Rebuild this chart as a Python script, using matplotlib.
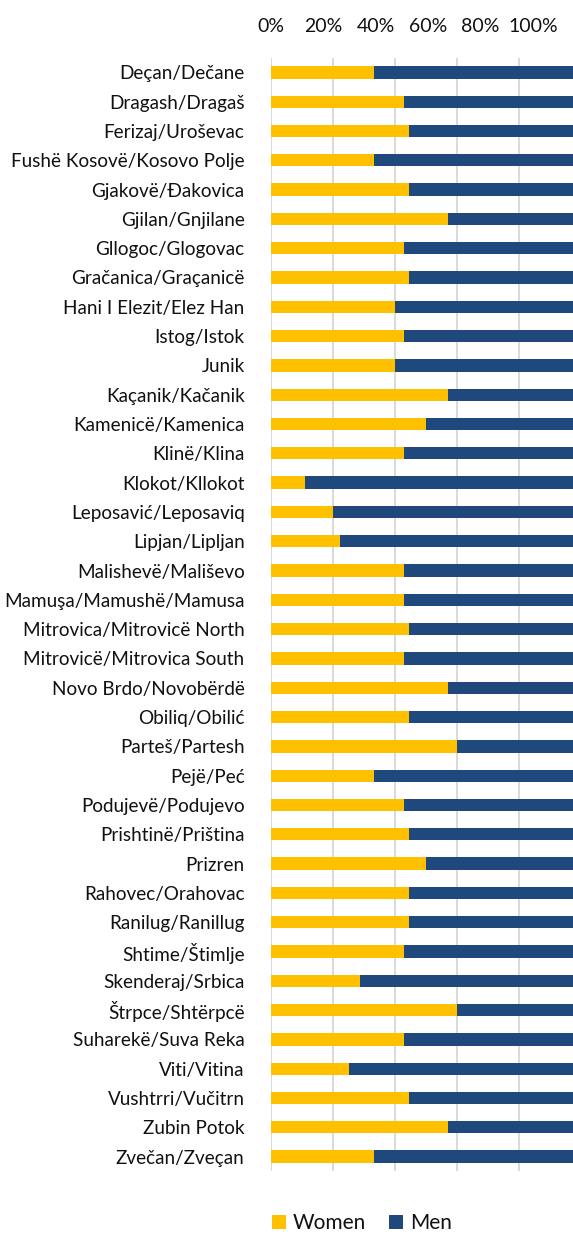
import matplotlib
matplotlib.use("Agg")
import matplotlib.pyplot as plt
from matplotlib.patches import Patch
import numpy as np

plt.rcParams['font.family'] = ['Lato', 'DejaVu Sans']

municipalities = [
    "Deçan/Dečane", "Dragash/Dragaš", "Ferizaj/Uroševac", "Fushë Kosovë/Kosovo Polje",
    "Gjakovë/Đakovica", "Gjilan/Gnjilane", "Gllogoc/Glogovac", "Gračanica/Graçanicë",
    "Hani I Elezit/Elez Han", "Istog/Istok", "Junik", "Kaçanik/Kačanik",
    "Kamenicë/Kamenica", "Klinë/Klina", "Klokot/Kllokot", "Leposavić/Leposaviq",
    "Lipjan/Lipljan", "Malishevë/Mališevo", "Mamuşa/Mamushë/Mamusa",
    "Mitrovica/Mitrovicë North", "Mitrovicë/Mitrovica South", "Novo Brdo/Novobërdë",
    "Obiliq/Obilić", "Parteš/Partesh", "Pejë/Peć", "Podujevë/Podujevo",
    "Prishtinë/Priština", "Prizren", "Rahovec/Orahovac", "Ranilug/Ranillug",
    "Shtime/Štimlje", "Skenderaj/Srbica", "Štrpce/Shtërpcë", "Suharekë/Suva Reka",
    "Viti/Vitina", "Vushtrri/Vučitrn", "Zubin Potok", "Zvečan/Zveçan",
]

women = [
    33.3, 42.9, 44.4, 33.3,
    44.4, 57.1, 42.9, 44.4,
    40.0, 42.9, 40.0, 57.1,
    50.0, 42.9, 11.1, 20.0,
    22.2, 42.9, 42.9,
    44.4, 42.9, 57.1,
    44.4, 60.0, 33.3, 42.9,
    44.4, 50.0, 44.4, 44.4,
    42.9, 28.6, 60.0, 42.9,
    25.0, 44.4, 57.1, 33.3,
]
men = [100.0 - w for w in women]

tick_values = [0, 20, 40, 60, 80, 100]
tick_labels = ["0%", "20%", "40%", "60%", "80%", "100%"]

series_names = ["Women", "Men"]
colors = ["#FFC000", "#1F497D"]

W, H = 573, 1237
fig = plt.figure(figsize=(W / 100, H / 100), dpi=100)

ax_left, ax_right = 271, 581
ax_top, ax_bot = 57.7, 1171.3
ax = fig.add_axes([ax_left / W, 1 - ax_bot / H, (ax_right - ax_left) / W, (ax_bot - ax_top) / H])

y = np.arange(len(municipalities))
ax.barh(y, women, height=0.42, color=colors[0], zorder=3)
ax.barh(y, men, left=women, height=0.42, color=colors[1], zorder=3)

ax.set_xlim(0, 100)
ax.set_ylim(len(municipalities) - 0.5, -0.5)
ax.set_xticks(tick_values)
ax.xaxis.grid(True, color="#d9d9d9", linewidth=1.4, zorder=0)
ax.tick_params(axis="x", length=0, labelbottom=False, labeltop=False)
ax.set_yticks(y)
ax.set_yticklabels(municipalities, fontsize=13.6, color="#111111")
ax.tick_params(axis="y", length=0, pad=19)
for s in ax.spines.values():
    s.set_visible(False)

# squeezed percentage labels at the top
ax2 = fig.add_axes([271 / W, 1 - 37 / H, 262 / W, 20 / H])
ax2.set_xlim(0, 100)
ax2.set_ylim(0, 1)
ax2.axis("off")
for v, lab in zip(tick_values, tick_labels):
    ax2.text(v, 0.5, lab, ha="center", va="center", fontsize=14, color="#111111")

handles = [Patch(facecolor=c, edgecolor="none") for c in colors]
fig.legend(handles, series_names, loc="center", bbox_to_anchor=(362 / W, 1 - 1223 / H),
           ncol=2, frameon=False, fontsize=15, handlelength=0.65, handleheight=0.65,
           handletextpad=0.35, columnspacing=1.1, borderpad=0, labelcolor="#111111")

fig.savefig("out.png", dpi=100)
